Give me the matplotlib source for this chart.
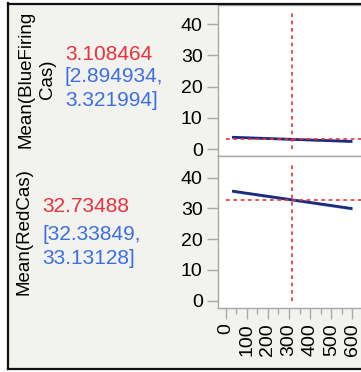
import matplotlib
matplotlib.use("Agg")
import matplotlib.pyplot as plt
from matplotlib.lines import Line2D
from matplotlib.patches import Rectangle
import numpy as np

plt.rcParams['font.family'] = ['Liberation Sans', 'DejaVu Sans']

# Profiler data
x_range = [30, 600]
current_x = 314
responses = ["Mean(BlueFiring\nCas)", "Mean(RedCas)"]
pred_values = ["3.108464", "32.73488"]
ci_texts = ["[2.894934,\n3.321994]", "[32.33849,\n33.13128]"]
current_y = [3.108464, 32.73488]
line_start = [3.80, 35.60]
line_end = [2.45, 29.90]
ci_half = [0.25, 0.45]
y_ticks = [0, 10, 20, 30, 40]
x_ticks = [0, 100, 200, 300, 400, 500, 600]

W, H = 361, 372
fig = plt.figure(figsize=(W / 100, H / 100), dpi=100, facecolor='white')

def fx(px):
    return px / W

def fy(py):
    return 1 - py / H

BG = '#f2f2ee'
RED = '#e8323c'
BLUE = '#3b6fe3'
NAVY = '#1c2b7a'
GRID = '#a8a8a8'

# panel background and frame
fig.patches.append(Rectangle((fx(8), fy(369)), fx(361) - fx(8), fy(3) - fy(369),
                             transform=fig.transFigure, facecolor=BG, edgecolor='none', zorder=-5))
fig.lines.append(Line2D([fx(8), fx(8)], [fy(3), fy(369)], transform=fig.transFigure, color='#111111', lw=1.6, zorder=10))
fig.lines.append(Line2D([fx(8), fx(361)], [fy(3.5), fy(3.5)], transform=fig.transFigure, color='#111111', lw=1.6, zorder=10))
fig.lines.append(Line2D([fx(8), fx(361)], [fy(369), fy(369)], transform=fig.transFigure, color='#111111', lw=1.6, zorder=10))

panels = [(5, 156, (-2.2, 46.1)), (156, 308, (-2.4, 47.0))]
axes = []
for i, (top, bot, ylim) in enumerate(panels):
    ax = fig.add_axes([fx(218), fy(bot), fx(361) - fx(218), fy(top) - fy(bot)])
    ax.set_zorder(2)
    ax.set_facecolor('white')
    ax.set_xlim(-36.5, 641)
    ax.set_ylim(*ylim)
    for s in ['left', 'top', 'bottom']:
        ax.spines[s].set_color(GRID)
        ax.spines[s].set_linewidth(1.0)
    ax.spines['right'].set_visible(False)
    ax.set_yticks(y_ticks)
    ax.tick_params(axis='y', direction='out', length=8, width=1, color=GRID,
                   labelsize=14, pad=3, labelcolor='black')
    if i == 1:
        ax.set_xticks(x_ticks)
        ax.set_xticks([50, 150, 250, 350, 450, 550], minor=True)
        ax.set_xticklabels([str(t) for t in x_ticks], rotation=90, fontsize=14, va='top')
        ax.tick_params(axis='x', which='major', direction='out', length=8, width=1, color=GRID, pad=3)
        ax.tick_params(axis='x', which='minor', direction='out', length=4, width=1, color=GRID)
    else:
        ax.set_xticks([])

    # confidence band and prediction line
    xs = np.array(x_range, dtype=float)
    ys = np.array([line_start[i], line_end[i]])
    ax.fill_between(xs, ys - ci_half[i], ys + ci_half[i], color='#8fb0ee', alpha=0.9, lw=0, zorder=2)
    ax.plot(xs, ys, color=NAVY, lw=2.0, zorder=3, solid_capstyle='butt')

    # current setting reference lines
    ax.plot([0, 660], [current_y[i], current_y[i]], color=RED, lw=1.2,
            ls=(0, (2.2, 2.2)), zorder=4, clip_on=True)
    ax.plot([current_x, current_x], [0, 44.5], color=RED, lw=1.2,
            ls=(0, (2.2, 2.2)), zorder=4)
    axes.append(ax)

# response labels
fig.text(fx(37), fy(79), responses[0], rotation=90, ha='center', va='center',
         fontsize=13.5, multialignment='center', linespacing=1.35)
fig.text(fx(24), fy(232), responses[1], rotation=90, ha='center', va='center', fontsize=13.5)

# predicted values and intervals
fig.text(fx(65), fy(55), pred_values[0], color=RED, fontsize=15, ha='left', va='center')
fig.text(fx(65), fy(77), ci_texts[0].split('\n')[0], color=BLUE, fontsize=15, ha='left', va='center')
fig.text(fx(65), fy(101), ci_texts[0].split('\n')[1], color=BLUE, fontsize=15, ha='left', va='center')
fig.text(fx(42), fy(207), pred_values[1], color=RED, fontsize=15, ha='left', va='center')
fig.text(fx(42), fy(235), ci_texts[1].split('\n')[0], color=BLUE, fontsize=15, ha='left', va='center')
fig.text(fx(42), fy(258), ci_texts[1].split('\n')[1], color=BLUE, fontsize=15, ha='left', va='center')

fig.savefig('out.png', dpi=100, facecolor=fig.get_facecolor())
